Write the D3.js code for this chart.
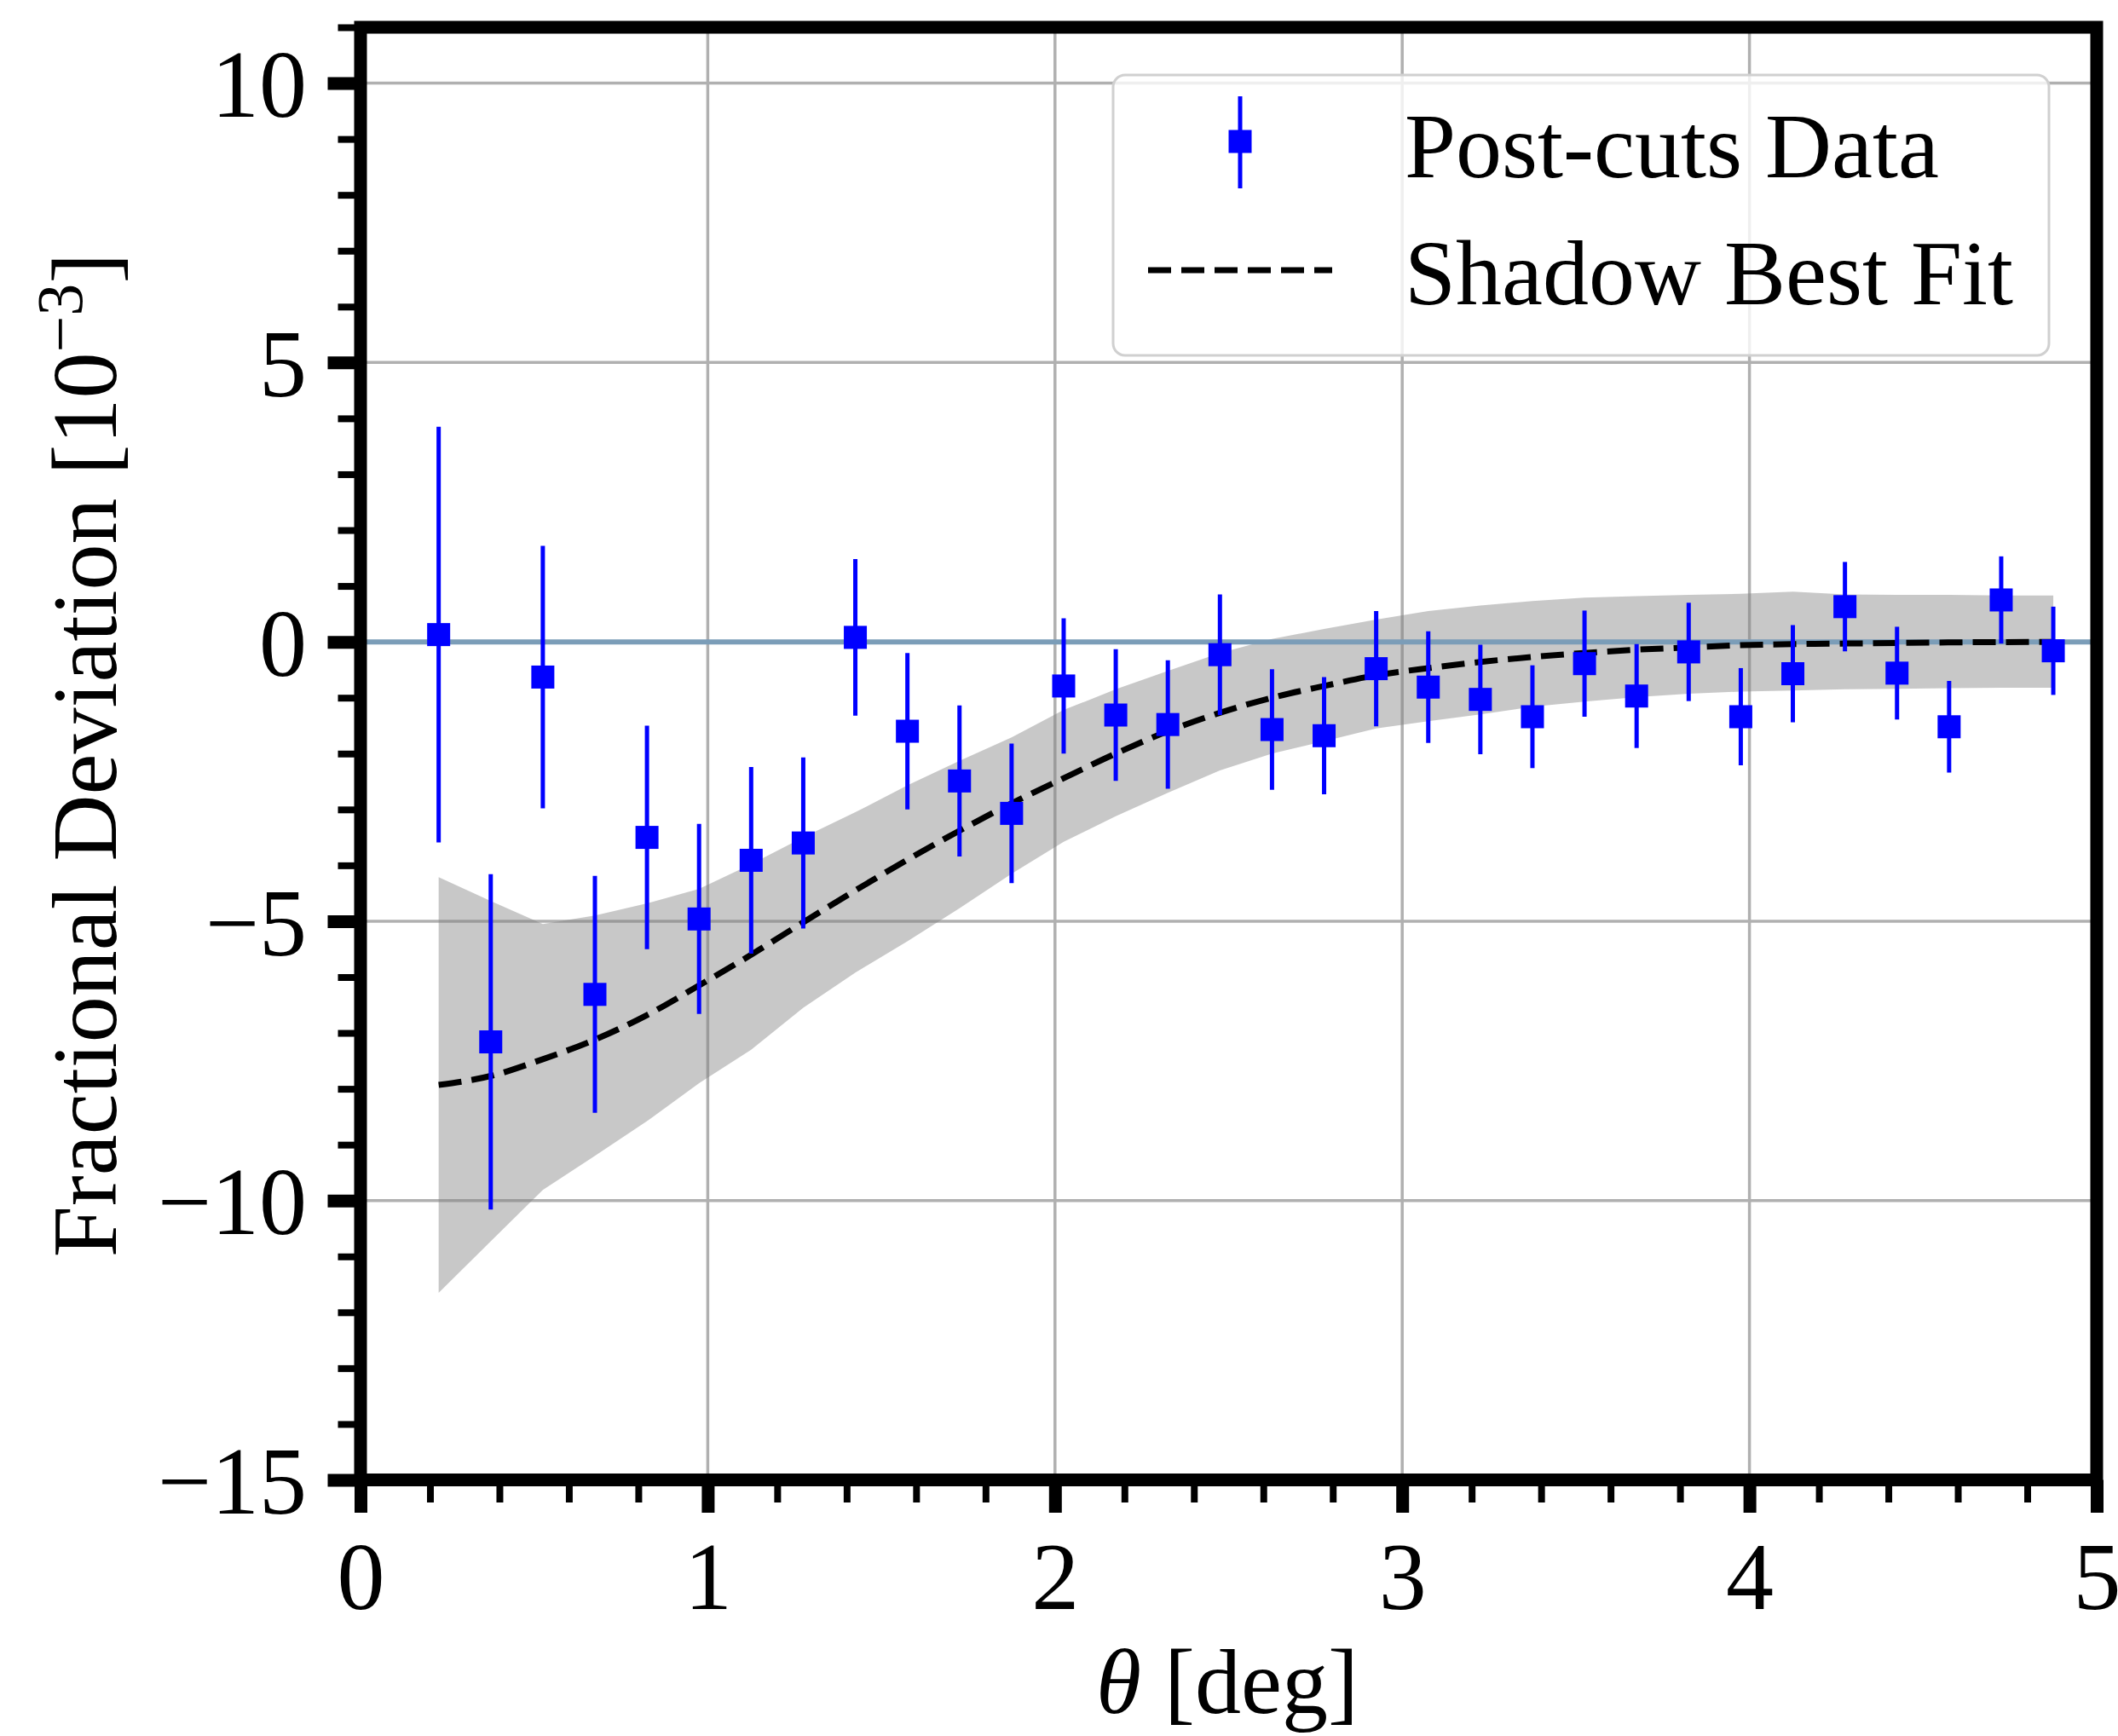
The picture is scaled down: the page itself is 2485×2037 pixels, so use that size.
<!DOCTYPE html>
<html>
<head>
<meta charset="utf-8">
<script src="https://cdn.jsdelivr.net/npm/d3@7"></script>
<style>
  html, body { margin: 0; padding: 0; background: #ffffff; }
  svg { display: block; }
  text { font-family: "Liberation Serif", "DejaVu Serif", serif; fill: #000; }
</style>
</head>
<body>
<script>
// ---------------- data ----------------
const theta = [0.225, 0.375, 0.525, 0.675, 0.825, 0.975, 1.125, 1.275, 1.425, 1.575,
               1.725, 1.875, 2.025, 2.175, 2.325, 2.475, 2.625, 2.775, 2.925, 3.075,
               3.225, 3.375, 3.525, 3.675, 3.825, 3.975, 4.125, 4.275, 4.425, 4.575,
               4.725, 4.875];
const deviation = [0.13, -7.16, -0.63, -6.31, -3.50, -4.96, -3.91, -3.60, 0.08, -1.60,
                   -2.49, -3.07, -0.79, -1.31, -1.48, -0.23, -1.57, -1.68, -0.48, -0.81,
                   -1.03, -1.34, -0.39, -0.97, -0.18, -1.34, -0.57, 0.63, -0.56, -1.52,
                   0.75, -0.16];
const errors = [3.72, 3.00, 2.35, 2.12, 2.00, 1.70, 1.67, 1.53, 1.40, 1.40,
                1.35, 1.25, 1.21, 1.18, 1.15, 1.08, 1.08, 1.05, 1.03, 1.00,
                0.98, 0.92, 0.95, 0.93, 0.88, 0.87, 0.87, 0.80, 0.83, 0.82,
                0.78, 0.79];
const fitValues = [-7.93, -7.77, -7.47, -7.12, -6.68, -6.15, -5.60, -5.02, -4.45, -3.90,
                   -3.38, -2.89, -2.44, -2.00, -1.60, -1.27, -1.00, -0.79, -0.60, -0.47,
                   -0.36, -0.27, -0.20, -0.14, -0.10, -0.06, -0.04, -0.03, -0.02, -0.01,
                   -0.005, 0.0];
const bandUpper = [-4.21, -4.64, -5.05, -4.90, -4.68, -4.42, -3.98, -3.50, -3.05, -2.57,
                   -2.13, -1.71, -1.22, -0.85, -0.52, -0.20, 0.05, 0.23, 0.40, 0.55,
                   0.65, 0.73, 0.79, 0.82, 0.84, 0.86, 0.90, 0.85, 0.84, 0.84,
                   0.83, 0.83];
const bandLower = [-11.65, -10.73, -9.81, -9.20, -8.58, -7.90, -7.30, -6.55, -5.92, -5.36,
                   -4.77, -4.15, -3.58, -3.12, -2.70, -2.30, -2.00, -1.78, -1.55, -1.42,
                   -1.30, -1.16, -1.07, -0.99, -0.93, -0.89, -0.87, -0.85, -0.84, -0.83,
                   -0.82, -0.82];
const xMajorTicks = [0, 1, 2, 3, 4, 5];
const xMinorTicks = [0.2, 0.4, 0.6, 0.8, 1.2, 1.4, 1.6, 1.8, 2.2, 2.4, 2.6, 2.8,
                     3.2, 3.4, 3.6, 3.8, 4.2, 4.4, 4.6, 4.8];
const yMajorTicks = [-15, -10, -5, 0, 5, 10];
const yMinorTicks = [-14, -13, -12, -11, -9, -8, -7, -6, -4, -3, -2, -1,
                     1, 2, 3, 4, 6, 7, 8, 9, 11];
const legendLabels = ["Post-cuts Data", "Shadow Best Fit"];

// ---------------- setup ----------------
const W = 2485, H = 2037;
const FS = 112;      // tick labels
const FS_LAB = 108;  // axis labels & legend
const svg = d3.select("body").append("svg").attr("width", W).attr("height", H);

const x = d3.scaleLinear().domain([0, 5]).range([423, 2460]);
const y = d3.scaleLinear().domain([-15, 11]).range([1736.5, 32]);

const pts = theta.map((t, i) => ({ t, v: deviation[i], e: errors[i], f: fitValues[i], hi: bandUpper[i], lo: bandLower[i] }));

// grid
const grid = svg.append("g");
grid.selectAll("line.vx").data(xMajorTicks.filter(d => d > 0 && d < 5)).join("line")
  .attr("x1", d => x(d)).attr("x2", d => x(d)).attr("y1", y(11)).attr("y2", y(-15))
  .attr("stroke", "#b0b0b0").attr("stroke-width", 3.5);
grid.selectAll("line.hy").data(yMajorTicks.filter(d => d > -15)).join("line")
  .attr("x1", x(0)).attr("x2", x(5)).attr("y1", d => y(d)).attr("y2", d => y(d))
  .attr("stroke", "#b0b0b0").attr("stroke-width", 3.5);

// band
const area = d3.area().x(d => x(d.t)).y0(d => y(d.lo)).y1(d => y(d.hi));
svg.append("path").datum(pts).attr("d", area)
  .attr("fill", "#808080").attr("fill-opacity", 0.43).attr("stroke", "none");

// zero line
svg.append("line").attr("x1", x(0)).attr("x2", x(5)).attr("y1", y(0)).attr("y2", y(0))
  .attr("stroke", "#7b9db8").attr("stroke-width", 6);

// fit line
const line = d3.line().x(d => x(d.t)).y(d => y(d.f)).curve(d3.curveMonotoneX);
svg.append("path").datum(pts).attr("d", line)
  .attr("fill", "none").attr("stroke", "#000").attr("stroke-width", 7)
  .attr("stroke-dasharray", "27,12");

// error bars
const MS = 27;
svg.append("g").selectAll("line").data(pts).join("line")
  .attr("x1", d => x(d.t)).attr("x2", d => x(d.t))
  .attr("y1", d => y(d.v + d.e)).attr("y2", d => y(d.v - d.e))
  .attr("stroke", "#0000ff").attr("stroke-width", 5);
svg.append("g").selectAll("rect").data(pts).join("rect")
  .attr("x", d => x(d.t) - MS / 2).attr("y", d => y(d.v) - MS / 2)
  .attr("width", MS).attr("height", MS).attr("fill", "#0000ff");

// legend
const lg = svg.append("g");
lg.append("rect").attr("x", 1306).attr("y", 88).attr("width", 1098).attr("height", 329)
  .attr("rx", 14).attr("ry", 14)
  .attr("fill", "#ffffff").attr("fill-opacity", 0.8)
  .attr("stroke", "#d0d0d0").attr("stroke-width", 3);
lg.append("line").attr("x1", 1455).attr("x2", 1455).attr("y1", 113).attr("y2", 221)
  .attr("stroke", "#0000ff").attr("stroke-width", 5);
lg.append("rect").attr("x", 1455 - MS / 2).attr("y", 166 - MS / 2).attr("width", MS).attr("height", MS)
  .attr("fill", "#0000ff");
lg.append("line").attr("x1", 1347).attr("x2", 1563).attr("y1", 317).attr("y2", 317)
  .attr("stroke", "#000").attr("stroke-width", 7).attr("stroke-dasharray", "27,12");
lg.selectAll("text").data(legendLabels).join("text")
  .attr("x", 1648).attr("y", (d, i) => i === 0 ? 208 : 357)
  .attr("font-size", FS_LAB).text(d => d);

// spines
const sp = svg.append("g");
sp.append("rect").attr("x", x(0)).attr("y", y(11)).attr("width", x(5) - x(0)).attr("height", y(-15) - y(11))
  .attr("fill", "none").attr("stroke", "#000").attr("stroke-width", 15);

// axes
function styleAxis(g) {
  g.select(".domain").remove();
  g.selectAll(".tick line").attr("stroke", "#000");
}
const xAxisMajor = svg.append("g").attr("transform", `translate(0,${y(-15)})`)
  .call(d3.axisBottom(x).tickValues(xMajorTicks).tickSize(38.5).tickFormat(d3.format("d")));
styleAxis(xAxisMajor);
xAxisMajor.selectAll(".tick line").attr("stroke-width", 15);
xAxisMajor.selectAll(".tick text").attr("y", 151).attr("dy", null)
  .attr("font-size", FS).attr("font-family", "Liberation Serif");

const xAxisMinor = svg.append("g").attr("transform", `translate(0,${y(-15)})`)
  .call(d3.axisBottom(x).tickValues(xMinorTicks).tickSize(26.5).tickFormat(""));
styleAxis(xAxisMinor);
xAxisMinor.selectAll(".tick line").attr("stroke-width", 8);

const yAxisMajor = svg.append("g").attr("transform", `translate(${x(0)},0)`)
  .call(d3.axisLeft(y).tickValues(yMajorTicks).tickSize(38.5).tickFormat(d3.format("d")));
styleAxis(yAxisMajor);
yAxisMajor.selectAll(".tick line").attr("stroke-width", 15);
yAxisMajor.selectAll(".tick text").attr("x", -63).attr("dy", "0.35em")
  .attr("font-size", FS).attr("font-family", "Liberation Serif");

const yAxisMinor = svg.append("g").attr("transform", `translate(${x(0)},0)`)
  .call(d3.axisLeft(y).tickValues(yMinorTicks).tickSize(26.5).tickFormat(""));
styleAxis(yAxisMinor);
yAxisMinor.selectAll(".tick line").attr("stroke-width", 8);

// axis labels
const xl = svg.append("text").attr("x", 1440).attr("y", 2010).attr("text-anchor", "middle")
  .attr("font-size", FS_LAB);
xl.append("tspan").attr("font-style", "italic").text("θ");
xl.append("tspan").text(" [deg]");

const yl = svg.append("text").attr("transform", "translate(136,886) rotate(-90)")
  .attr("text-anchor", "middle").attr("font-size", FS_LAB);
yl.append("tspan").text("Fractional Deviation [10");
yl.append("tspan").attr("font-size", 76).attr("dy", -40).text("−3");
yl.append("tspan").attr("dy", 40).text("]");
</script>
</body>
</html>
